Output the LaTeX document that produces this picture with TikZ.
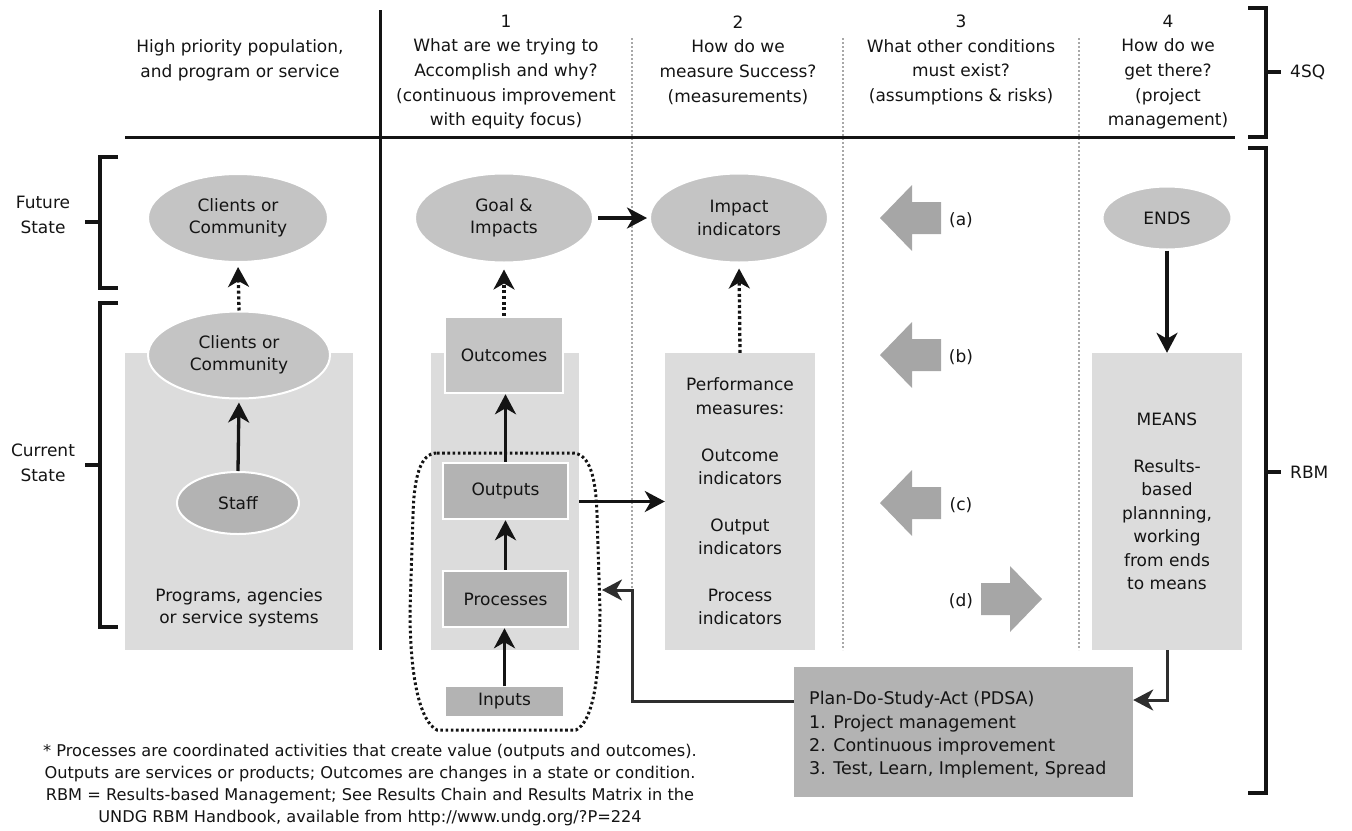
\documentclass[tikz,border=0pt]{standalone}
\usepackage{fontspec}
\setmainfont{DejaVu Sans}
\usetikzlibrary{arrows.meta,shapes.geometric,calc}
\definecolor{lightbox}{HTML}{DCDCDC}
\definecolor{ellfill}{HTML}{C4C4C4}
\definecolor{darkbox}{HTML}{B3B3B3}
\definecolor{blockarr}{HTML}{A6A6A6}
\definecolor{sepgray}{HTML}{A8A8A8}
\definecolor{ink}{HTML}{141414}
\definecolor{fbink}{HTML}{2E2E2E}
\begin{document}
\begin{tikzpicture}[x=1pt,y=-1pt,
  every node/.style={font=\fontsize{17}{22.5}\selectfont, text=ink, inner sep=0pt},
  hdr/.style={align=center, font=\fontsize{17}{24.7}\selectfont},
  ell/.style={ellipse, fill=ellfill, draw=white, line width=2pt, align=center},
  bgbox/.style={rectangle, fill=lightbox, align=center, font=\fontsize{17}{23.4}\selectfont},
  dbox/.style={rectangle, fill=darkbox, draw=white, line width=2.5pt, align=center},
  arr/.style={-{Stealth[length=20pt,width=21pt,inset=6pt]}, line width=3.3pt, draw=ink},
  darr/.style={arr, dash pattern=on 3pt off 2.6pt},
  fbarr/.style={-{Stealth[length=20pt,width=21pt,inset=6pt]}, line width=3pt, draw=fbink},
  brk/.style={line width=3.4pt, draw=ink},
  sep/.style={draw=sepgray, line width=2pt, dash pattern=on 2pt off 2pt},
  blk/.style={fill=blockarr},
]
\useasboundingbox (0,0) rectangle (1352,830);

% separators and rules
\draw[sep] (632,38) -- (632,650);
\draw[sep] (843,38) -- (843,650);
\draw[sep] (1079,38) -- (1079,650);
\draw[line width=3pt, draw=ink] (380,10) -- (380,650);
\draw[line width=3pt, draw=ink] (125,137) -- (1235,137);

% header texts
\node[hdr] (h0) at (240,60) {High priority population,\\and program or service};
\node[hdr] (h1) at (506,72) {1\\What are we trying to\\Accomplish and why?\\(continuous improvement\\with equity focus)};
\node[hdr] (h2) at (738,60) {2\\How do we\\measure Success?\\(measurements)};
\node[hdr] (h3) at (961,60) {3\\What other conditions\\must exist?\\(assumptions \& risks)};
\node[hdr] (h4) at (1168,72) {4\\How do we\\get there?\\(project\\management)};

% left brackets
\draw[brk] (118,157) -- (100,157) -- (100,288) -- (118,288);
\draw[brk] (85,222) -- (100,222);
\node[hdr] (futlab) at (43,215) {Future\\State};
\draw[brk] (118,303) -- (100,303) -- (100,627) -- (118,627);
\draw[brk] (85,465) -- (100,465);
\node[hdr] (curlab) at (43,463) {Current\\State};

% right brackets
\draw[brk] (1248,8) -- (1266,8) -- (1266,137) -- (1248,137);
\draw[brk] (1266,72) -- (1281,72);
\node[anchor=west] (sq) at (1290,72) {4SQ};
\draw[brk] (1248,148) -- (1266,148) -- (1266,793) -- (1248,793);
\draw[brk] (1266,472) -- (1281,472);
\node[anchor=west] (rbm) at (1290,472) {RBM};

% background boxes
\node[bgbox, minimum width=228pt, minimum height=297pt] (c0box) at (239,501.5) {};
\node[bgbox, minimum width=148pt, minimum height=297pt] (c1box) at (505,501.5) {};
\node[bgbox, minimum width=150pt, minimum height=297pt] (perf) at (740,501.5)
  {Performance\\measures:\\[23.4pt]Outcome\\indicators\\[23.4pt]Output\\indicators\\[23.4pt]Process\\indicators};
\node[bgbox, minimum width=150pt, minimum height=297pt] (means) at (1167,501.5)
  {MEANS\\[23.4pt]Results-\\based\\plannning,\\working\\from ends\\to means};

% column 0
\node[ell, minimum width=180pt, minimum height=88pt] (cfut) at (238,218) {Clients or\\Community};
\node[ell, minimum width=182pt, minimum height=87pt] (ccur) at (239,355) {Clients or\\Community};
\node[ell, fill=darkbox, minimum width=122pt, minimum height=62pt] (staff) at (238,503) {Staff};
\node[align=center] (progs) at (239,608) {Programs, agencies\\or service systems};

% column 1
\node[ell, minimum width=178pt, minimum height=89pt] (goal) at (504,218) {Goal \&\\Impacts};
\node[dbox, fill=ellfill, minimum width=118pt, minimum height=76pt] (outcomes) at (504,355) {Outcomes};
\node[dbox, minimum width=125pt, minimum height=56pt] (outputs) at (505.5,491) {Outputs};
\node[dbox, minimum width=125pt, minimum height=56pt] (processes) at (505.5,599) {Processes};
\node[rectangle, fill=darkbox, minimum width=117pt, minimum height=29pt] (inputs) at (504.5,701) {Inputs};

% dotted grouping region
\draw[line width=3pt, draw=ink, dash pattern=on 2.6pt off 2.6pt]
  (437,453) -- (572,453) .. controls (590,453) and (596,478) .. (597,515)
  -- (600,610) .. controls (600,682) and (592,722) .. (576,730)
  -- (437,730) .. controls (421,722) and (410,682) .. (410,610)
  -- (413,515) .. controls (414,478) and (420,453) .. (437,453);
\coordinate (regE) at (602,590);
\coordinate (fbturn) at (632,590);

% column 2
\node[ell, minimum width=178pt, minimum height=89pt] (impact) at (739,218) {Impact\\indicators};

% column 3 block arrows
\fill[blk] (880,218) -- (912,185) -- (912,202) -- (941,202) -- (941,234) -- (912,234) -- (912,251) -- cycle;
\fill[blk] (880,355) -- (912,322) -- (912,339) -- (941,339) -- (941,371) -- (912,371) -- (912,388) -- cycle;
\fill[blk] (880,503) -- (912,470) -- (912,487) -- (941,487) -- (941,519) -- (912,519) -- (912,536) -- cycle;
\fill[blk] (1042,599) -- (1010,566) -- (1010,583) -- (981,583) -- (981,615) -- (1010,615) -- (1010,632) -- cycle;
\node (la) at (961,220) {(a)};
\node (lb) at (961,357) {(b)};
\node (lc) at (961,505) {(c)};
\node (ld) at (961,601) {(d)};

% column 4
\node[ell, minimum width=129pt, minimum height=63pt] (ends) at (1167,218) {ENDS};

% PDSA
\node[rectangle, fill=darkbox, minimum width=339pt, minimum height=130pt] (pdsa) at (963.5,732) {};
\node[anchor=west, align=left, font=\fontsize{17.5}{23.3}\selectfont] (pdsatxt) at (809,735)
  {Plan-Do-Study-Act (PDSA)\\1. Project management\\2. Continuous improvement\\3. Test, Learn, Implement, Spread};

% footnote
\node[align=center, font=\fontsize{16.2}{22}\selectfont] (foot) at (370,785)
  {* Processes are coordinated activities that create value (outputs and outcomes).\\
   Outputs are services or products; Outcomes are changes in a state or condition.\\
   RBM = Results-based Management; See Results Chain and Results Matrix in the\\
   UNDG RBM Handbook, available from http://www.undg.org/?P=224};

% connectors
\draw[darr, shorten >=4pt] (ccur.north) -- (cfut.south);
\draw[arr, shorten >=3pt] (staff.north) -- (ccur.south);
\draw[arr, shorten <=4pt, shorten >=2pt] (goal.east) -- (impact.west);
\draw[darr, shorten >=6pt] (outcomes.north) -- (goal.south);
\draw[darr, shorten >=5pt] (perf.north) -- (impact.south);
\draw[arr] (outputs.north) -- (outputs.north |- outcomes.south);
\draw[arr] (processes.north) -- (processes.north |- outputs.south);
\draw[arr] (inputs.north) -- (inputs.north |- processes.south);
\draw[arr] (c1box.east) -- (perf.west);
\draw[arr] (ends.south) -- (means.north);
\draw[fbarr] (means.south) |- ([yshift=32pt]pdsa.east);
\draw[fbarr] ([yshift=31pt]pdsa.west) -| (fbturn) -- (regE);
\end{tikzpicture}
\end{document}
